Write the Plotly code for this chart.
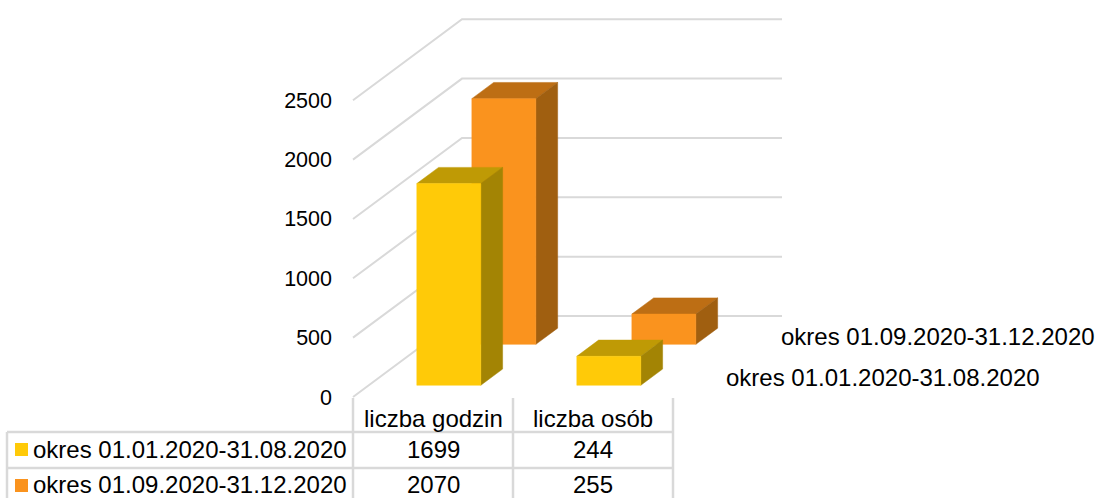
import plotly.graph_objects as go

# ---- data ----
categories = ["liczba godzin", "liczba osób"]
series_names = ["okres 01.01.2020-31.08.2020", "okres 01.09.2020-31.12.2020"]
values_2020_a = [1699, 244]
values_2020_b = [2070, 255]
tick_values = [0, 500, 1000, 1500, 2000, 2500]

# ---- styles ----
W, H = 1095, 498
FONT = "Liberation Sans"
GRID = "#d9d9d9"
FACES_A = dict(front="#FFCA08", top="#BF9A05", side="#A38404")
FACES_B = dict(front="#FA931E", top="#BD6E14", side="#A05F10")

# ---- oblique projection: category (x), value (y), depth (0 front .. 1 back) ----
PX_PER_CAT = 160.0
PX_PER_VAL = 0.1187
X0_PX, Y0_PX = 353.0, 397.0
DX_PX, DY_PX = 109.0, 81.0
x_range = [-X0_PX / PX_PER_CAT, (W - X0_PX) / PX_PER_CAT]
y_range = [(Y0_PX - H) / PX_PER_VAL, Y0_PX / PX_PER_VAL]
SHIFT_X = DX_PX / PX_PER_CAT
SHIFT_Y = DY_PX / PX_PER_VAL


def proj(cat, val, depth):
    return cat + depth * SHIFT_X, val + depth * SHIFT_Y


def poly(fig, pts, color):
    xs, ys = zip(*[proj(*p) for p in pts + pts[:1]])
    fig.add_trace(go.Scatter(x=xs, y=ys, mode="lines", fill="toself", fillcolor=color,
                             line=dict(color=color, width=0.5), hoverinfo="skip"))


def bar(fig, cat_i, value, d0, faces, width=0.4, thick=0.2):
    a, b = cat_i + 0.5 - width / 2, cat_i + 0.5 + width / 2
    d1 = d0 + thick
    poly(fig, [(a, value, d0), (a, value, d1), (b, value, d1), (b, value, d0)], faces["top"])
    poly(fig, [(b, 0, d0), (b, value, d0), (b, value, d1), (b, 0, d1)], faces["side"])
    poly(fig, [(a, 0, d0), (b, 0, d0), (b, value, d0), (a, value, d0)], faces["front"])


fig = go.Figure()

# gridlines: side wall and back wall
for v in tick_values:
    xs, ys = zip(proj(0, v, 0), proj(0, v, 1), proj(2, v, 1))
    fig.add_trace(go.Scatter(x=xs, y=ys, mode="lines", line=dict(color=GRID, width=2), hoverinfo="skip"))

# back series first, then front series (painter's order)
for i, v in enumerate(values_2020_b):
    bar(fig, i, v, 0.65, FACES_B)
for i, v in enumerate(values_2020_a):
    bar(fig, i, v, 0.145, FACES_A)


def px(x):
    return x / W


def py(y):
    return 1 - y / H


# data table
T_X = [7, 353, 513, 673]
T_Y_HEAD, T_Y1, T_Y2 = 398, 432, 468
shapes = []
for x in T_X:
    shapes.append(dict(type="line", xref="paper", yref="paper", x0=px(x), x1=px(x),
                       y0=py(T_Y1 if x == T_X[0] else T_Y_HEAD), y1=py(H),
                       line=dict(color=GRID, width=2.5)))
for y in (T_Y1, T_Y2):
    shapes.append(dict(type="line", xref="paper", yref="paper", x0=px(T_X[0]), x1=px(T_X[3]),
                       y0=py(y), y1=py(y), line=dict(color=GRID, width=2.5)))


def label(text, x, y, anchor="center", size=24):
    return dict(text=text, xref="paper", yref="paper", x=px(x), y=py(y), xanchor=anchor, yanchor="middle",
                showarrow=False, font=dict(family=FONT, size=size, color="#000000"))


ann = []
for i, c in enumerate(categories):
    ann.append(label(c, 433 + 160 * i, 418))
rows = [(series_names[0], values_2020_a, 449.5, FACES_A["front"]),
        (series_names[1], values_2020_b, 484, FACES_B["front"])]
for name, vals, y, col in rows:
    ann.append(label(name, 30.5, y, "left"))
    for i, v in enumerate(vals):
        ann.append(label(str(v), 433 + 160 * i, y))
    key_y = y if y < 470 else y + 1.5
    shapes.append(dict(type="rect", xref="paper", yref="paper", x0=px(15), x1=px(28),
                       y0=py(key_y + 6.5), y1=py(key_y - 6.5), fillcolor=col, line=dict(width=0)))

# series labels on the depth axis
ann.append(label(series_names[0], 723.5, 377, "left"))
ann.append(label(series_names[1], 779, 336, "left"))

fig.update_layout(
    width=W, height=H, margin=dict(l=0, r=0, t=0, b=0),
    paper_bgcolor="white", plot_bgcolor="white", showlegend=False, hovermode=False,
    shapes=shapes, annotations=ann,
    xaxis=dict(range=x_range, visible=False, domain=[0, 1], fixedrange=True),
    yaxis=dict(range=y_range, anchor="free", position=px(X0_PX), tickmode="array",
               tickvals=tick_values, ticks="", showgrid=False, zeroline=False, showline=False,
               ticklabelstandoff=21, tickfont=dict(family=FONT, size=21.5, color="#000000"),
               fixedrange=True),
)

fig.write_html("out.html", config=dict(displayModeBar=False),
               post_script="document.body.style.margin='0';")
